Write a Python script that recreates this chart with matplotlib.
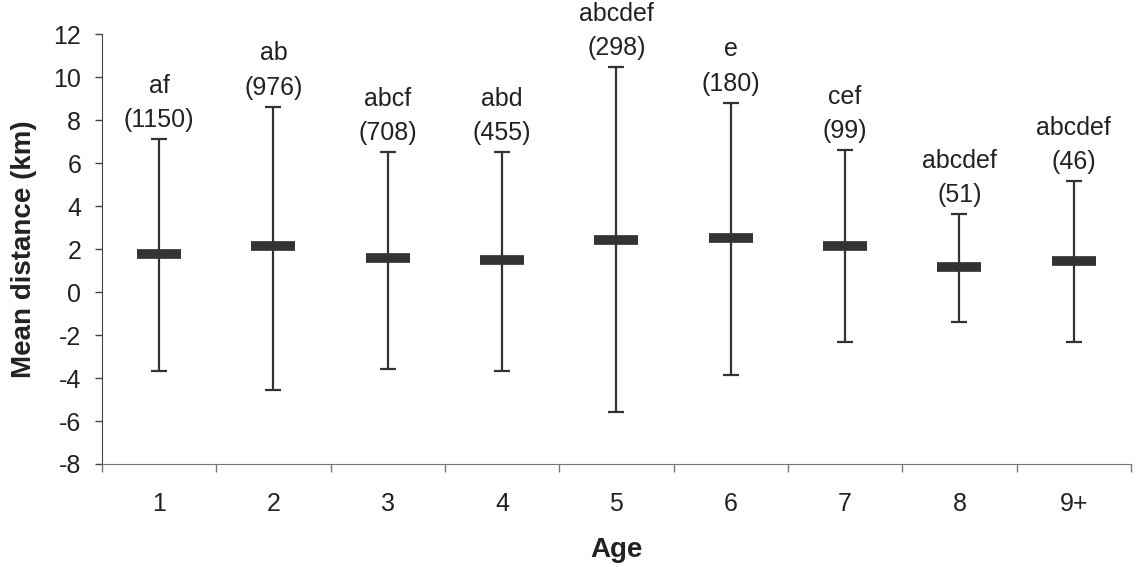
import numpy as np
import matplotlib
matplotlib.use('Agg')
import matplotlib.pyplot as plt

plt.rcParams['font.family'] = ['Liberation Sans', 'DejaVu Sans']
plt.rcParams['axes.unicode_minus'] = False

# mean dispersal distance by age class, with upper/lower bar ends
ages = ['1', '2', '3', '4', '5', '6', '7', '8', '9+']
mean_km = [1.76, 2.15, 1.58, 1.48, 2.43, 2.52, 2.15, 1.19, 1.47]
upper_km = [7.12, 8.64, 6.53, 6.53, 10.47, 8.82, 6.62, 3.64, 5.18]
lower_km = [-3.67, -4.54, -3.58, -3.67, -5.59, -3.87, -2.32, -1.37, -2.32]
groups = ['af', 'ab', 'abcf', 'abd', 'abcdef', 'e', 'cef', 'abcdef', 'abcdef']
n_obs = [1150, 976, 708, 455, 298, 180, 99, 51, 46]

ink = '#333333'
txt = '#222222'
x = np.arange(len(ages))
mean = np.array(mean_km)
yerr = [mean - np.array(lower_km), np.array(upper_km) - mean]

fig = plt.figure(figsize=(11.42, 5.67), dpi=100)
ax = fig.add_axes([0.0893, 0.1817, 0.9010, 0.7575])

ax.errorbar(x, mean, yerr=yerr, fmt='none', ecolor=ink, elinewidth=1.6,
            capsize=5.5, capthick=1.6)
ax.scatter(x, mean, marker='_', s=961, linewidths=7, color=ink, zorder=3)

for xi, top, g, n in zip(x, upper_km, groups, n_obs):
    ax.annotate(f'{g}\n({n})', (xi, top), xytext=(0, 5),
                textcoords='offset points', ha='center', va='bottom',
                fontsize=18, color=txt, linespacing=1.55)

ax.set_xlim(-0.5, len(ages) - 0.5)
ax.set_ylim(-8, 12)
ax.set_yticks(np.arange(-8, 13, 2))

# category labels at centres, tick marks between categories
ax.set_xticks(np.arange(-0.5, len(ages), 1.0))
ax.set_xticklabels([])
ax.set_xticks(x, minor=True)
ax.set_xticklabels(ages, minor=True)
ax.tick_params(axis='x', which='major', length=6, width=1, color='#777777',
               direction='out')
ax.tick_params(axis='x', which='minor', length=0, pad=20, labelsize=18,
               labelcolor=txt)
ax.tick_params(axis='y', length=5, width=1, color='#444444', pad=10,
               labelsize=18, labelcolor=txt)

for side in ['top', 'right']:
    ax.spines[side].set_visible(False)
ax.spines['bottom'].set_color('#777777')
ax.spines['left'].set_color('#444444')

ax.set_xlabel('Age', fontsize=20, fontweight='bold', color=txt,
              labelpad=15)
ax.set_ylabel('Mean distance (km)', fontsize=20, fontweight='bold',
              color=txt, labelpad=12)

fig.savefig('out.png', dpi=100)
